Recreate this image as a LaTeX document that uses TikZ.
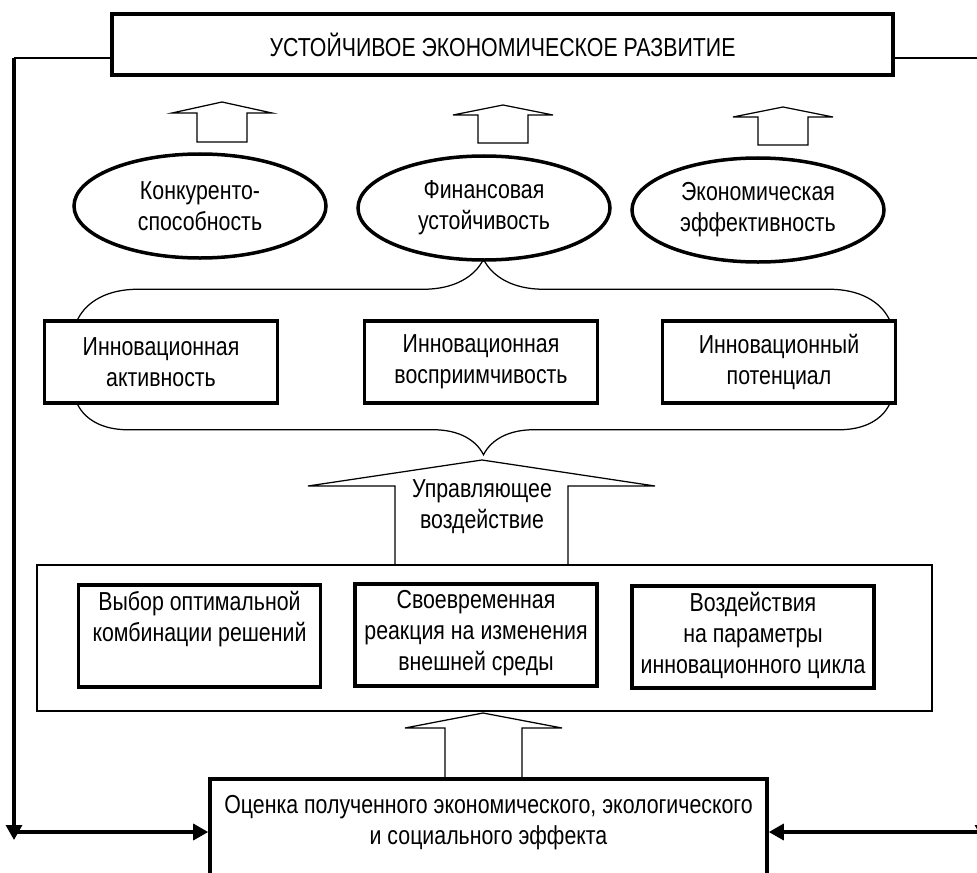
\documentclass[tikz,border=0pt]{standalone}
\usepackage{fontspec}
\setmainfont{Liberation Sans}[FakeStretch=0.82]
\usetikzlibrary{shapes.geometric,arrows.meta,positioning,decorations.pathreplacing}

\begin{document}
\begin{tikzpicture}[x=0.2mm, y=-0.2mm,
  font=\fontsize{14.8}{17.6}\selectfont,
  thinline/.style={line width=0.25mm},
  thickline/.style={line width=0.65mm},
  goal/.style={rectangle, draw, line width=0.85mm, minimum width=156.2mm, minimum height=12.2mm, inner sep=0pt},
  factor/.style={ellipse, draw, line width=0.7mm, minimum width=50.4mm, minimum height=20.8mm, inner sep=0pt, align=center},
  innov/.style={rectangle, draw, line width=0.7mm, minimum width=46.6mm, minimum height=16.4mm, inner sep=0pt, align=center},
  outerbox/.style={rectangle, draw, thinline, minimum width=179mm, minimum height=29.2mm},
  actbox/.style={rectangle, draw, line width=0.7mm, minimum width=48.4mm, minimum height=20.4mm, anchor=north},
  evalbox/.style={rectangle, draw, line width=0.7mm, minimum width=111.4mm, minimum height=26mm, anchor=north},
  boxtext/.style={align=center},
  hollow/.style={draw, thinline, fill=white},
  curly/.style={thinline, decorate, decoration={brace, amplitude=#1}},
  headarrow/.style={-{Triangle[length=3mm, width=3.2mm]}}
]

\useasboundingbox (0,0) rectangle (977,873);
\clip (0,0) rectangle (977,873);
\fill[white] (0,0) rectangle (977,873);

% Goal
\node[goal] (goal) at (502.5,44.5) {УСТОЙЧИВОЕ ЭКОНОМИЧЕСКОЕ РАЗВИТИЕ};

% Results
\node[factor] (compet) at (200,206) {Конкуренто-\\способность};
\node[factor] (finance) at (484,208) {Финансовая\\устойчивость};
\node[factor] (effect) at (758,210) {Экономическая\\эффективность};

% Innovation characteristics
\node[innov] (activity) at (161,362) {Инновационная\\активность};
\node[innov] (receptive) at (481,362) {Инновационная\\восприимчивость};
\node[innov] (potential) at (779,362) {Инновационный\\потенциал};

% Control actions
\node[boxtext] (control) at (482,507) {Управляющее\\воздействие};
\node[outerbox] (actions) at (484.5,638) {};
\node[actbox] (choice) at (199.5,583) {};
\node[actbox] (reaction) at (476,582) {};
\node[actbox] (impact) at (753,584) {};
\node[boxtext, below=0.4mm of choice.north] (choicetxt) {Выбор оптимальной\\комбинации решений};
\node[boxtext, below=0.4mm of reaction.north] (reactiontxt) {Своевременная\\реакция на изменения\\внешней среды};
\node[boxtext, below=0.4mm of impact.north] (impacttxt) {Воздействия\\на параметры\\инновационного цикла};

% Evaluation
\node[evalbox] (eval) at (488.5,777) {};
\node[boxtext, below=2.4mm of eval.north] (evaltxt) {Оценка полученного экономического, экологического\\и социального эффекта};

% Braces
\draw[curly=12mm] ([xshift=7mm]activity.north west) -- ([xshift=-1.6mm]potential.north east);
\draw[curly=10mm] ([xshift=-1.6mm]potential.south east) -- ([xshift=7mm]activity.south west);

% Block arrows
\draw[hollow] (197,142) |- (172,113) -- (222,102) -- (272,113) -| (247,142) -- cycle;
\draw[hollow] (478,143) |- (453,115) -- (503,105) -- (553,115) -| (528,143) -- cycle;
\draw[hollow] (758,145) |- (733,117) -- (783,107) -- (833,117) -| (808,145) -- cycle;
\draw[thinline] (395,565) |- (308,486) -- (482,460) -- (655,486) -| (568,565);
\draw[thinline] (445,777) |- (405,728) -- (483,713) -- (562,728) -| (522,777);

% Feedback
\coordinate (ltop) at (14,58);
\coordinate (lbot) at (14,840);
\coordinate (lmid) at (14,832);
\coordinate (rtop) at (983,58);
\coordinate (rbot) at (983,840);
\coordinate (rmid) at (983,832);

\draw[thinline] (goal.west |- ltop) -- (ltop);
\draw[thickline, headarrow] (ltop) -- (lbot);
\draw[thickline, headarrow] (lmid) -- (lmid -| eval.west);
\draw[thinline] (goal.east |- rtop) -- (rtop);
\draw[thickline, headarrow] (rtop) -- (rbot);
\draw[thickline, headarrow] (rmid) -- (rmid -| eval.east);

\end{tikzpicture}
\end{document}
